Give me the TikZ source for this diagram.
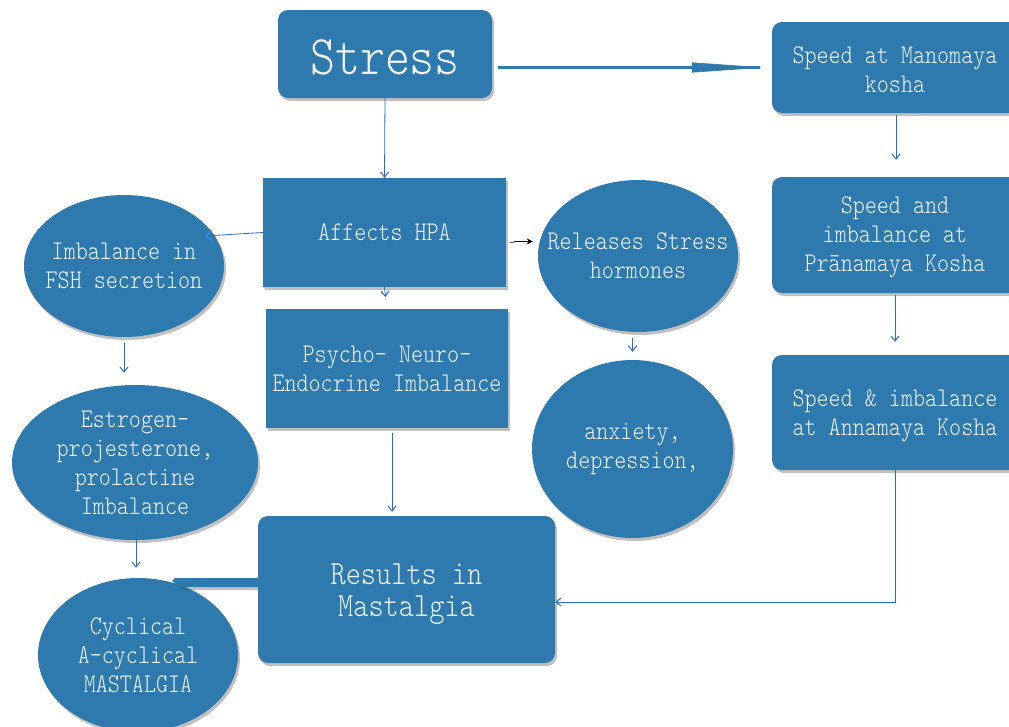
\documentclass[tikz,border=0pt]{standalone}
\usepackage{fontspec}
\usetikzlibrary{shapes.geometric,arrows.meta,shadows,calc}
\newfontfamily\slimmono{lmmonolt10-regular.otf}[FakeStretch=0.85]
\definecolor{boxblue}{RGB}{46,122,174}
\definecolor{txtwhite}{RGB}{238,242,246}
\definecolor{linkblue}{RGB}{30,110,215}
\definecolor{headblue}{RGB}{60,140,235}
\begin{document}
\begin{tikzpicture}[x=1pt,y=-1pt,
  softshadow/.style={drop shadow={shadow xshift=2pt,shadow yshift=-3pt,opacity=0.35,fill=black!70}},
  bodytext/.style={text=txtwhite,font=\slimmono\fontsize{27}{29}\selectfont,align=center,inner sep=0pt},
  base/.style={fill=boxblue,draw=none,bodytext,softshadow},
  rbox/.style={base,rectangle,rounded corners=10pt},
  sbox/.style={base,rectangle},
  oval/.style={fill=boxblue,draw=none,ellipse,inner sep=0pt,softshadow},
  conn/.style={draw=linkblue,line width=0.8pt,-{Straight Barb[length=5pt,width=8pt,line width=1pt]}},
]
\clip (0,0) rectangle (1009,726);
\fill[white] (0,0) rectangle (1009,726);

% left column of ovals
\node[oval,minimum width=200pt,minimum height=142pt] (fsh) at (124,266) {};
\node[bodytext] (fshtext) at (fsh) {Imbalance in\\FSH secretion};
\node[oval,minimum width=246pt,minimum height=155pt] (est) at (135,462.5) {};
\node[bodytext] (esttext) at (est) {Estrogen-\\projesterone,\\prolactine\\Imbalance};
\node[oval,minimum width=200pt,minimum height=154pt] (cyc) at (138,655) {};
\node[bodytext] (cyctext) at (cyc) {Cyclical\\A-cyclical\\MASTALGIA};

% middle column
\node[rbox,minimum width=214pt,minimum height=88pt,text height=42pt,
  font=\slimmono\fontsize{56}{60}\selectfont] (stress) at (385,54) {Stress};
\node[sbox,minimum width=243pt,minimum height=109pt] (hpa) at (384.5,232.5) {Affects HPA};
\node[sbox,minimum width=242pt,minimum height=119pt] (pne) at (387,368.5) {Psycho- Neuro-\\Endocrine Imbalance};

% hormone ovals
\node[oval,minimum width=200pt,minimum height=152pt] (rel) at (638,256) {};
\node[bodytext] (reltext) at (rel) {Releases Stress\\hormones};
\node[oval,minimum width=201pt,minimum height=178pt] (anx) at (632.5,449) {};
\node[bodytext] (anxtext) at (anx) {anxiety,\\depression,};

% kosha boxes on the right
\node[rbox,minimum width=246pt,minimum height=91pt] (mano) at (895,67.5) {};
\node[bodytext] (manotext) at ([yshift=-2pt]mano.center) {Speed at Manomaya\\kosha};
\node[rbox,minimum width=246pt,minimum height=116pt] (prana) at (895,235) {};
\node[bodytext] (pranatext) at ([yshift=-2pt]prana.center) {Speed and\\imbalance at\\Prānamaya Kosha};
\node[rbox,minimum width=246pt,minimum height=115pt] (anna) at (895,412.5) {};
\node[bodytext] (annatext) at ([yshift=-3pt]anna.center) {Speed \& imbalance\\at Annamaya Kosha};

% block arrow from the result to the mastalgia oval
\coordinate (barend) at (175,578);
\fill[boxblue,softshadow] (270,578) -- (barend) -- (172,581) -- (181,587) -- (270,587) -- cycle;

\node[rbox,minimum width=297pt,minimum height=147pt] (results) at (406.5,589.5) {};
\node[bodytext,font=\slimmono\fontsize{34}{32}\selectfont] (resultstext)
  at ([yshift=-5pt]results.center) {Results in\\Mastalgia};

% connectors
\draw[draw=boxblue,line width=3pt,shorten <=6pt,shorten >=12pt] (stress.east |- mano.west) -- (mano.west);
\draw[draw=boxblue,line width=0.6pt,shorten >=7pt,
  -{Triangle[length=73pt,width=10pt]}] ([xshift=-90pt]mano.west) -- (mano.west);
\draw[conn] (stress.south) -- (hpa.north);
\coordinate (fshin) at (205,236);
\draw[conn,-{Straight Barb[length=6pt,width=10pt,line width=1.2pt,color=headblue]}] (hpa.west) -- (fshin);
\draw[conn,shorten >=12pt] (hpa.south) -- (pne.north);
\draw[linkblue,line width=1pt] ([xshift=4pt,yshift=-10pt]hpa.east) -- ++(4pt,0);
\draw[black,line width=1.2pt,shorten <=8pt,shorten >=5pt,-{Stealth[length=6pt,width=6pt]}]
  ([yshift=-9pt]hpa.east) -- ([yshift=-9pt]hpa.east -| rel.west);
\draw[conn,shorten <=6pt,shorten >=8pt] (rel.south -| anx.north) -- (anx.north);
\draw[conn,shorten <=6pt,shorten >=12pt] (fsh.south) -- (fsh.south |- est.north);
\draw[conn,shorten <=-7pt,shorten >=10pt] ([xshift=1pt]est.south) -- ([xshift=1pt]est.south |- cyc.north);
\draw[conn,shorten <=5pt,shorten >=4pt] ([xshift=5pt]pne.south) -- ([xshift=5pt]pne.south |- results.north);
\draw[conn,shorten <=2pt,shorten >=17pt] ([xshift=1pt]mano.south) -- ([xshift=1pt]mano.south |- prana.north);
\draw[conn,shorten <=2pt,shorten >=13pt] (prana.south) -- (anna.north);
\draw[conn] (anna.south) |- ([yshift=-12.5pt]results.east);
\end{tikzpicture}
\end{document}
